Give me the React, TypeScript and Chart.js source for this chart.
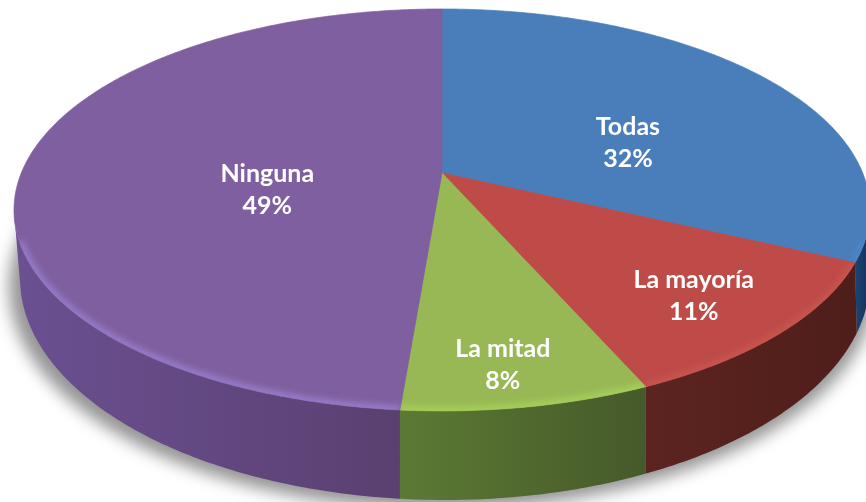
import React, { useEffect, useRef } from "react";
import { Chart, registerables } from "chart.js";

Chart.register(...registerables);

const categories = ["Todas", "La mayoría", "La mitad", "Ninguna"];
const shares = [32, 11.4, 7.9, 48.7];
const topColors = ["#4a7ebb", "#be4b48", "#98b855", "#7f5f9f"];
const rimColors = ["#4a86c8", "#c9544e", "#a6cf5a", "#967bca"];
const wallLeftColors = ["#1c4370", "#5c2420", "#5c7a34", "#6b5092"];
const wallRightColors = ["#12345c", "#4f1e1a", "#46592a", "#5a4070"];
const labelRadii = [0.552, 0.77, 0.753, 0.417];
const labelDrops = [24.4, 4, 24.7, 20.5];

// Perspective of the disc
const APEX = { x: 442, y: 173 };
const RX = 420.7;
const RY = 194.2;
const K = -0.184;
const TOP_ELLIPSE = { cx: 440, cy: 210, a: 428, b: 201 };
const BOTTOM_ELLIPSE = { cx: 445, cy: 278, a: 425, b: 222 };

function project(angle: number, r = 1) {
  const u = Math.cos(angle) * r;
  const v = Math.sin(angle) * r;
  const d = 1 + K * v;
  return { x: APEX.x + (RX * u) / d, y: APEX.y + (RY * v) / d };
}

function drop(p: { x: number; y: number }) {
  const t = Math.max(-1, Math.min(1, (p.x - TOP_ELLIPSE.cx) / TOP_ELLIPSE.a));
  const x = p.x + (t < 0 ? 7 : 2) * t * t * t * t;
  const s = Math.max(-1, Math.min(1, (x - BOTTOM_ELLIPSE.cx) / BOTTOM_ELLIPSE.a));
  return { x, y: BOTTOM_ELLIPSE.cy + BOTTOM_ELLIPSE.b * Math.sqrt(1 - s * s) };
}

function sample(a0: number, a1: number) {
  const pts: { x: number; y: number }[] = [];
  const n = Math.max(2, Math.ceil((a1 - a0) / 0.01));
  for (let i = 0; i <= n; i++) pts.push(project(a0 + ((a1 - a0) * i) / n));
  return pts;
}

const discPlugin = {
  id: "disc",
  beforeDatasetDraw(chart: any) {
    const ctx = chart.ctx as CanvasRenderingContext2D;
    const arcs = chart.getDatasetMeta(0).data as any[];

    // soft ground shadow
    ctx.save();
    ctx.filter = "blur(8px)";
    ctx.fillStyle = "rgba(0,0,0,0.42)";
    ctx.beginPath();
    ctx.ellipse(BOTTOM_ELLIPSE.cx - 3, BOTTOM_ELLIPSE.cy + 9, BOTTOM_ELLIPSE.a + 8, BOTTOM_ELLIPSE.b, 0, 0, Math.PI * 2);
    ctx.fill();
    ctx.restore();

    // walls
    arcs.forEach((arc, i) => {
      const front = sample(arc.startAngle, arc.endAngle).filter((p) => p.y >= TOP_ELLIPSE.cy);
      if (front.length < 2) return;
      const xs = front.map((p) => p.x);
      const g = ctx.createLinearGradient(Math.min(...xs), 0, Math.max(...xs), 0);
      g.addColorStop(0, wallLeftColors[i]);
      g.addColorStop(1, wallRightColors[i]);
      ctx.fillStyle = g;
      ctx.beginPath();
      front.forEach((p, j) => (j ? ctx.lineTo(p.x, p.y) : ctx.moveTo(p.x, p.y)));
      [...front].reverse().forEach((p) => {
        const q = drop(p);
        ctx.lineTo(q.x, q.y);
      });
      ctx.closePath();
      ctx.fill();
    });

    // top faces
    arcs.forEach((arc, i) => {
      const edge = sample(arc.startAngle, arc.endAngle);
      ctx.fillStyle = topColors[i];
      ctx.strokeStyle = topColors[i];
      ctx.lineWidth = 0.7;
      ctx.beginPath();
      ctx.moveTo(APEX.x, APEX.y);
      edge.forEach((p) => ctx.lineTo(p.x, p.y));
      ctx.closePath();
      ctx.fill();
      ctx.stroke();
    });

    // rim light along the front edge
    arcs.forEach((arc, i) => {
      const edge = sample(arc.startAngle, arc.endAngle);
      const front = edge.filter((p) => p.y >= TOP_ELLIPSE.cy + 30);
      if (front.length < 2) return;
      ctx.save();
      ctx.beginPath();
      ctx.moveTo(APEX.x, APEX.y);
      edge.forEach((p) => ctx.lineTo(p.x, p.y));
      ctx.closePath();
      ctx.clip();
      ctx.filter = "blur(3px)";
      ctx.strokeStyle = rimColors[i];
      ctx.lineWidth = 9;
      ctx.beginPath();
      front.forEach((p, j) => (j ? ctx.lineTo(p.x, p.y) : ctx.moveTo(p.x, p.y)));
      ctx.stroke();
      ctx.restore();
    });

    // labels
    ctx.save();
    ctx.fillStyle = "#ffffff";
    ctx.font = 'bold 25px Lato, "Open Sans", sans-serif';
    ctx.textAlign = "center";
    ctx.textBaseline = "middle";
    arcs.forEach((arc, i) => {
      const p = project((arc.startAngle + arc.endAngle) / 2, labelRadii[i]);
      const y = p.y + labelDrops[i];
      ctx.fillText(categories[i], p.x, y - 16);
      ctx.fillText(`${Math.round(shares[i])}%`, p.x, y + 16);
    });
    ctx.restore();
    return false;
  },
};

export default function App() {
  const ref = useRef<HTMLCanvasElement>(null);
  useEffect(() => {
    const chart = new Chart(ref.current as HTMLCanvasElement, {
      type: "pie",
      data: {
        labels: categories,
        datasets: [{ data: shares, backgroundColor: topColors, borderWidth: 0 }],
      },
      options: {
        animation: false,
        responsive: false,
        layout: { padding: 0 },
        plugins: { legend: { display: false }, tooltip: { enabled: false } },
      },
      plugins: [discPlugin],
    });
    return () => chart.destroy();
  }, []);
  return (
    <div style={{ position: "fixed", left: 0, top: 0, width: 866, height: 502, background: "#fff", overflow: "hidden" }}>
      <canvas ref={ref} width={866} height={502} style={{ display: "block", filter: "blur(0.5px)" }} />
    </div>
  );
}
